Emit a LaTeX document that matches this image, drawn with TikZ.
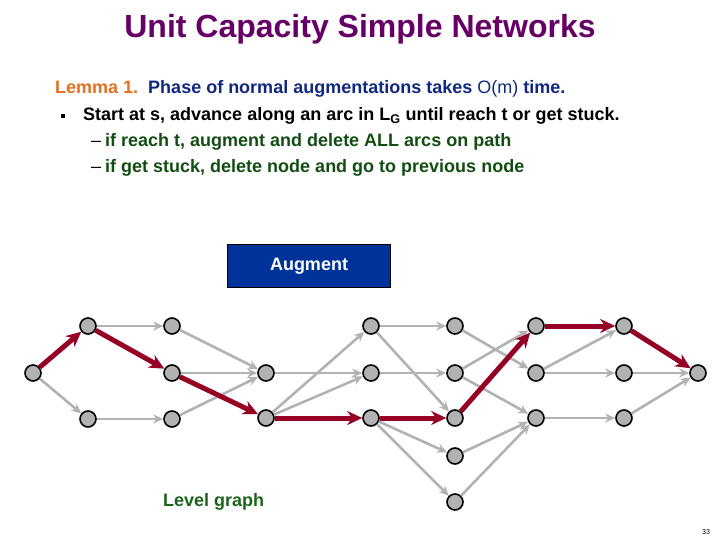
\documentclass[tikz,border=0pt]{standalone}
\usepackage{fontspec}
\setmainfont{Liberation Sans}
\usepackage{xcolor}
\usetikzlibrary{arrows.meta, positioning}
\definecolor{titlepurple}{RGB}{102,0,102}
\definecolor{lemmaorange}{RGB}{228,112,32}
\definecolor{lemmablue}{RGB}{16,40,128}
\definecolor{stepgreen}{RGB}{18,78,18}
\definecolor{levelgreen}{RGB}{28,100,28}
\definecolor{augblue}{RGB}{0,51,153}
\definecolor{arcgray}{RGB}{178,178,178}
\definecolor{pathred}{RGB}{150,0,36}

\begin{document}
\begin{tikzpicture}[
    x=1pt, y=-1pt,
    vertex/.style={circle, draw=black, line width=1.6pt, fill=gray!60, minimum size=16pt, inner sep=0pt},
    arc/.style={draw=arcgray, line width=2.6pt, -{Stealth[length=10pt,width=9pt]}},
    patharc/.style={draw=pathred, line width=5pt, -{Stealth[length=15pt,width=14pt]}},
    txt/.style={anchor=base west, inner sep=0pt, font=\bfseries\fontsize{18}{21}\selectfont},
]
    \useasboundingbox (0,0) rectangle (720,540);

    \node (title) [anchor=base, inner sep=0pt, text=titlepurple, font=\bfseries\fontsize{32}{38}\selectfont] at (360,38) {Unit Capacity Simple Networks};

    \node (lemma) [txt, text=lemmablue] at (55,94) {\textcolor{lemmaorange}{Lemma 1.}\ \ Phase of normal augmentations takes {\mdseries O(m)} time.};
    \node (bullet) [fill=black, minimum size=4pt, inner sep=0pt] at (63,116) {};
    \node (start) [txt] at (83,121) {Start at s, advance along an arc in L\textsubscript{G} until reach t or get stuck.};
    \node (dash1) [txt, font=\mdseries\fontsize{18}{21}\selectfont] at (91,147) {–};
    \node (reach) [txt, text=stepgreen] at (105,147) {if reach t, augment and delete ALL arcs on path};
    \node (dash2) [txt, font=\mdseries\fontsize{18}{21}\selectfont] at (91,173) {–};
    \node (stuck) [txt, text=stepgreen] at (105,173) {if get stuck, delete node and go to previous node};

    \node (augment) [draw=black, line width=1.2pt, fill=augblue, minimum width=163pt, minimum height=43pt, text=white, font=\bfseries\fontsize{18}{21}\selectfont] at (309,266) {\raisebox{-2pt}{Augment}};

    \node (level) [txt, text=levelgreen] at (163,506) {Level graph};
    \node (page) [anchor=base, inner sep=0pt, font=\fontsize{7}{8}\selectfont] at (706,534) {33};

    % level graph
    \node (s) [vertex] at (33,373) {};
    \node (a1) [vertex] at (88,326) {};
    \node (a2) [vertex] at (88,419) {};
    \node (b1) [vertex] at (172,326) {};
    \node (b2) [vertex] at (172,373) {};
    \node (b3) [vertex] at (172,419) {};
    \node (c1) [vertex] at (266,373) {};
    \node (c2) [vertex] at (266,418) {};
    \node (d1) [vertex] at (371,326) {};
    \node (d2) [vertex] at (371,373) {};
    \node (d3) [vertex] at (371,418) {};
    \node (e1) [vertex] at (455,326) {};
    \node (e2) [vertex] at (455,373) {};
    \node (e3) [vertex] at (455,418) {};
    \node (e4) [vertex] at (455,456) {};
    \node (e5) [vertex] at (455,502) {};
    \node (f1) [vertex] at (536,326) {};
    \node (f2) [vertex] at (536,373) {};
    \node (f3) [vertex] at (536,418) {};
    \node (g1) [vertex] at (624,326) {};
    \node (g2) [vertex] at (624,373) {};
    \node (g3) [vertex] at (624,418) {};
    \node (t) [vertex] at (698,373) {};

    \draw [arc] (s) -- (a2);
    \draw [arc] (a1) -- (b1);
    \draw [arc] (a2) -- (b3);
    \draw [arc] (b1) -- (c1);
    \draw [arc] (b2) -- (c1);
    \draw [arc] (b3) -- (c1);
    \draw [arc] (c1) -- (d2);
    \draw [arc] (c2) -- (d1);
    \draw [arc] (c2) -- (d2);
    \draw [arc] (d1) -- (e1);
    \draw [arc] (d1) -- (e3);
    \draw [arc] (d2) -- (e2);
    \draw [arc] (d3) -- (e4);
    \draw [arc] (d3) -- (e5);
    \draw [arc] (e1) -- (f2);
    \draw [arc] (e2) -- (f1);
    \draw [arc] (e2) -- (f3);
    \draw [arc] (e4) -- (f3);
    \draw [arc] (e5) -- (f3);
    \draw [arc] (f2) -- (g1);
    \draw [arc] (f2) -- (g2);
    \draw [arc] (f3) -- (g3);
    \draw [arc] (g2) -- (t);
    \draw [arc] (g3) -- (t);

    \draw [patharc] (s) -- (a1);
    \draw [patharc] (a1) -- (b2);
    \draw [patharc] (b2) -- (c2);
    \draw [patharc] (c2) -- (d3);
    \draw [patharc] (d3) -- (e3);
    \draw [patharc] (e3) -- (f1);
    \draw [patharc] (f1) -- (g1);
    \draw [patharc] (g1) -- (t);
\end{tikzpicture}
\end{document}
